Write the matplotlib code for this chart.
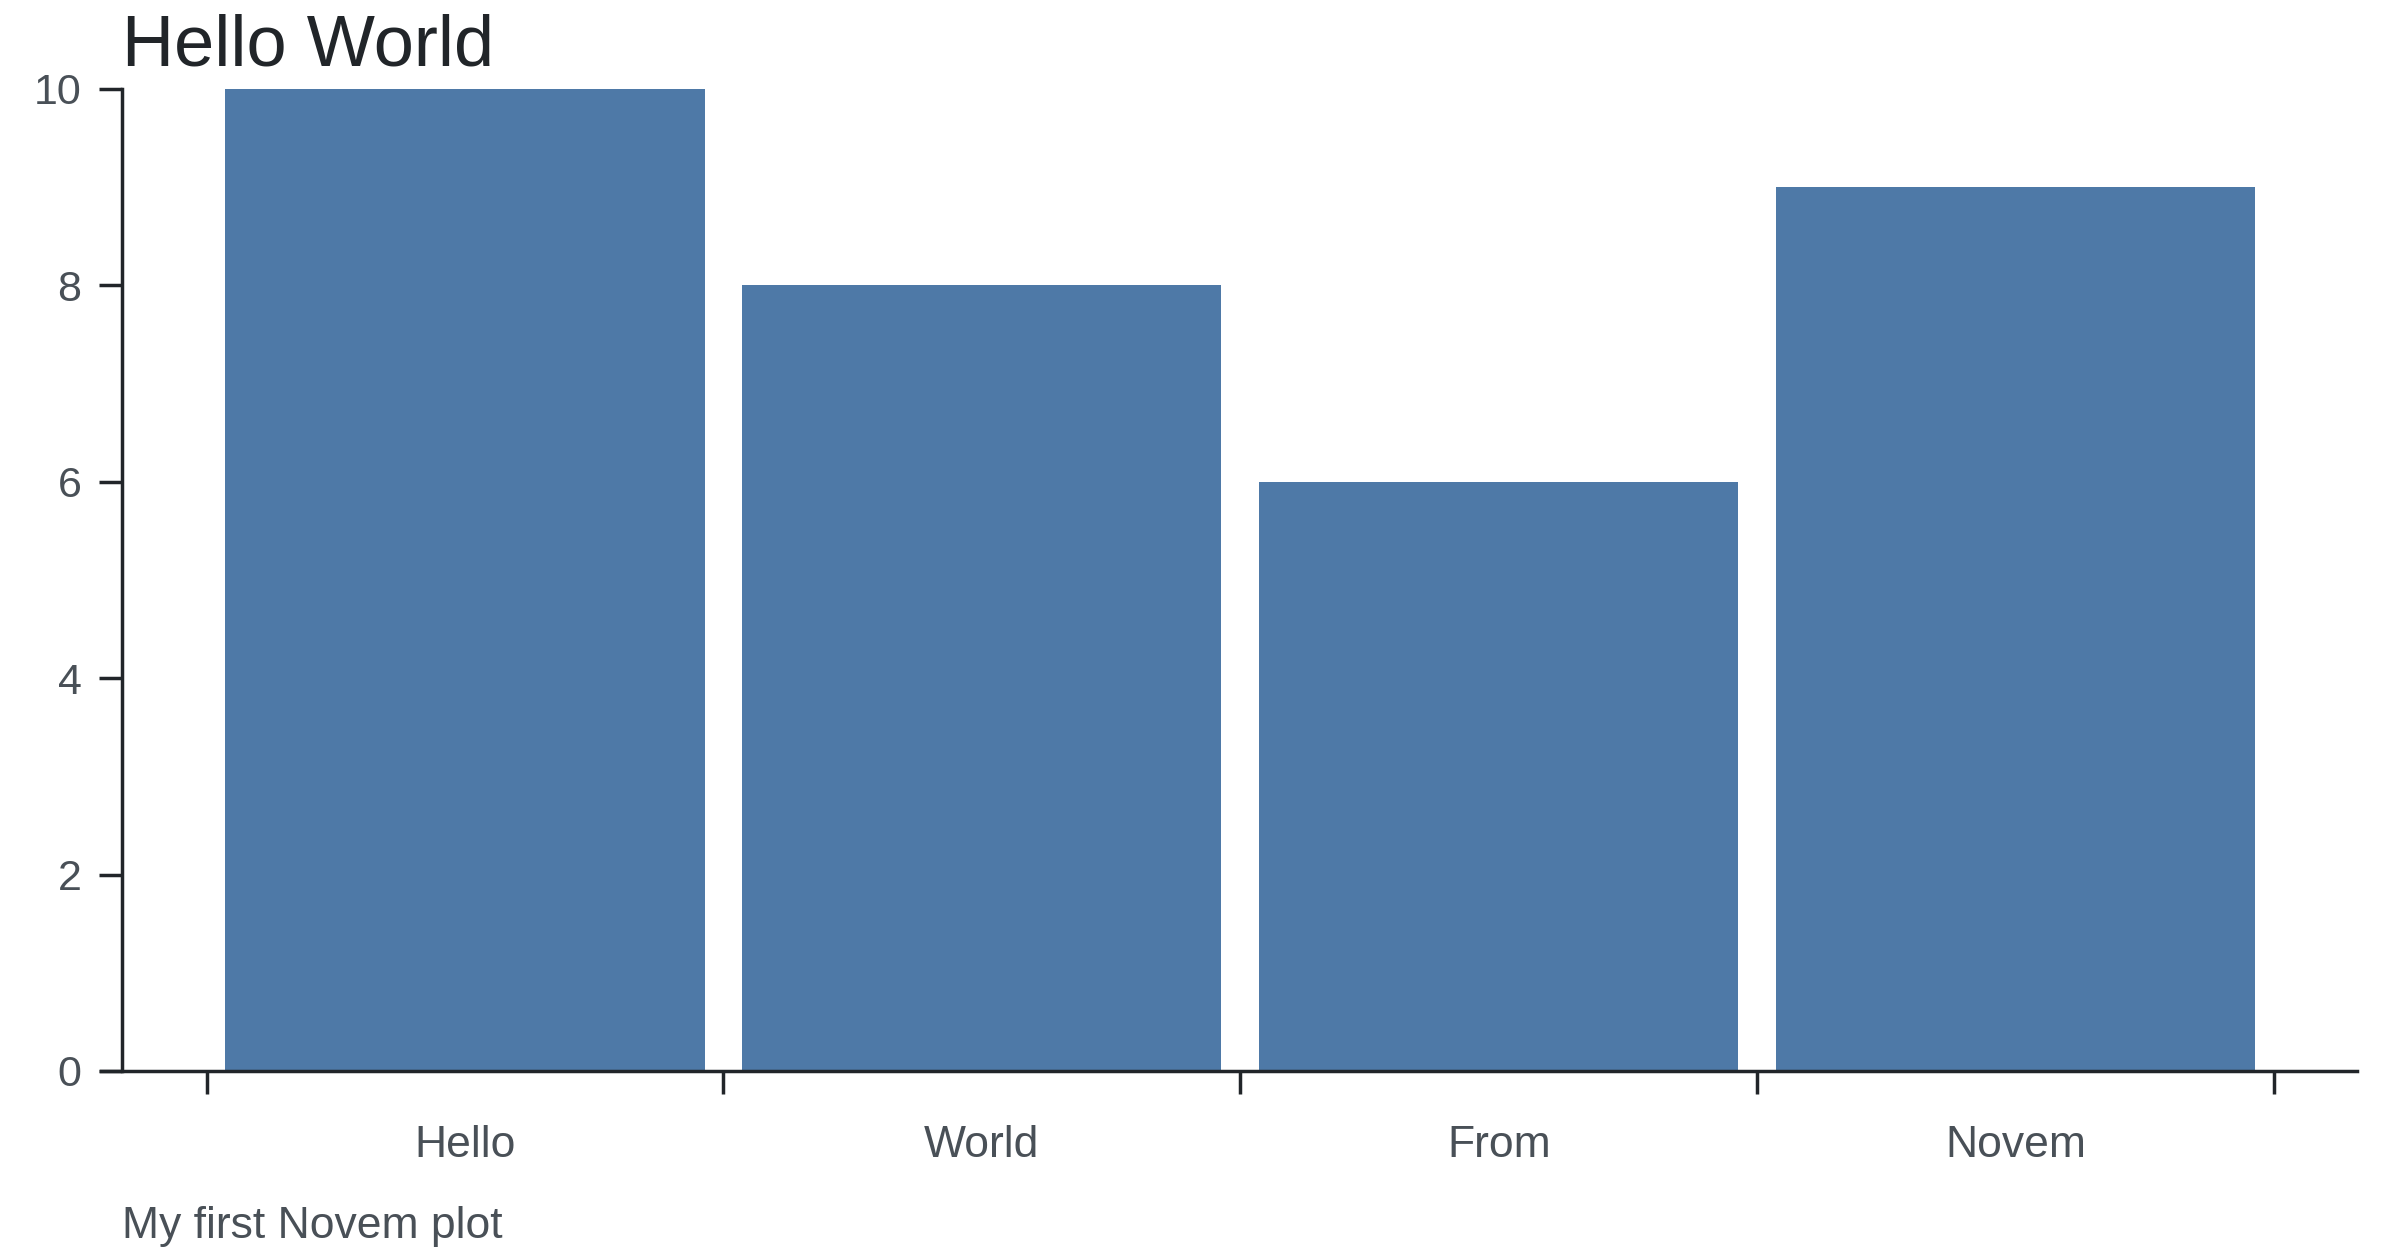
import numpy as np
import matplotlib
matplotlib.use("Agg")
import matplotlib.pyplot as plt

plt.rcParams['font.family'] = ['Liberation Sans', 'DejaVu Sans']

categories = ["Hello", "World", "From", "Novem"]
values = [10, 8, 6, 9]
y_ticks = [0, 2, 4, 6, 8, 10]

title = "Hello World"
caption = "My first Novem plot"

bar_color = "#4e79a7"
axis_color = "#212529"
label_color = "#495057"

W, H = 2400, 1256
fig = plt.figure(figsize=(W / 100, H / 100), dpi=100)

# axes box in pixels: x-axis line runs 101..2357, y from 1071 (0) to 88.8 (10)
left, right = 101, 2357
top, bottom = 88.8, 1071
ax = fig.add_axes([left / W, 1 - bottom / H, (right - left) / W, (bottom - top) / H])

x = np.arange(len(categories))
ax.bar(x, values, width=0.927, color=bar_color, zorder=2)

# band scale: band edges -0.5 .. 3.5 map to 206.6 .. 2274 px
px_per_unit = (2274 - 206.6) / len(categories)
x0 = -0.5 - (206.6 - left) / px_per_unit
x1 = len(categories) - 0.5 + (right - 2274) / px_per_unit
ax.set_xlim(x0, x1)
ax.set_ylim(0, 10)

spine_x = -0.5 - (206.6 - 122.4) / px_per_unit
ax.spines['left'].set_position(('data', spine_x))
ax.spines['left'].set_bounds(0, 10)
ax.spines['top'].set_visible(False)
ax.spines['right'].set_visible(False)
for s in ['left', 'bottom']:
    ax.spines[s].set_color(axis_color)
    ax.spines[s].set_linewidth(2.5)

ax.set_yticks(y_ticks)
ax.set_yticklabels([str(v) for v in y_ticks])
ax.tick_params(axis='y', length=16.5, width=2.5, color=axis_color,
               labelsize=31, labelcolor=label_color, pad=13)

edges = np.arange(len(categories) + 1) - 0.5
ax.set_xticks(edges)
ax.set_xticklabels([""] * len(edges))
ax.set_xticks(x, minor=True)
ax.set_xticklabels(categories, minor=True)
ax.tick_params(axis='x', which='major', length=16.5, width=2.5, color=axis_color)
ax.tick_params(axis='x', which='minor', length=0, labelsize=32,
               labelcolor=label_color, pad=39)

fig.text(122.4 / W, 1 - 66 / H, title, fontsize=52, color=axis_color,
         ha='left', va='baseline')
fig.text(122.4 / W, 1 - 1238 / H, caption, fontsize=32, color=label_color,
         ha='left', va='baseline')

fig.savefig("out.png", dpi=100, facecolor="white")
